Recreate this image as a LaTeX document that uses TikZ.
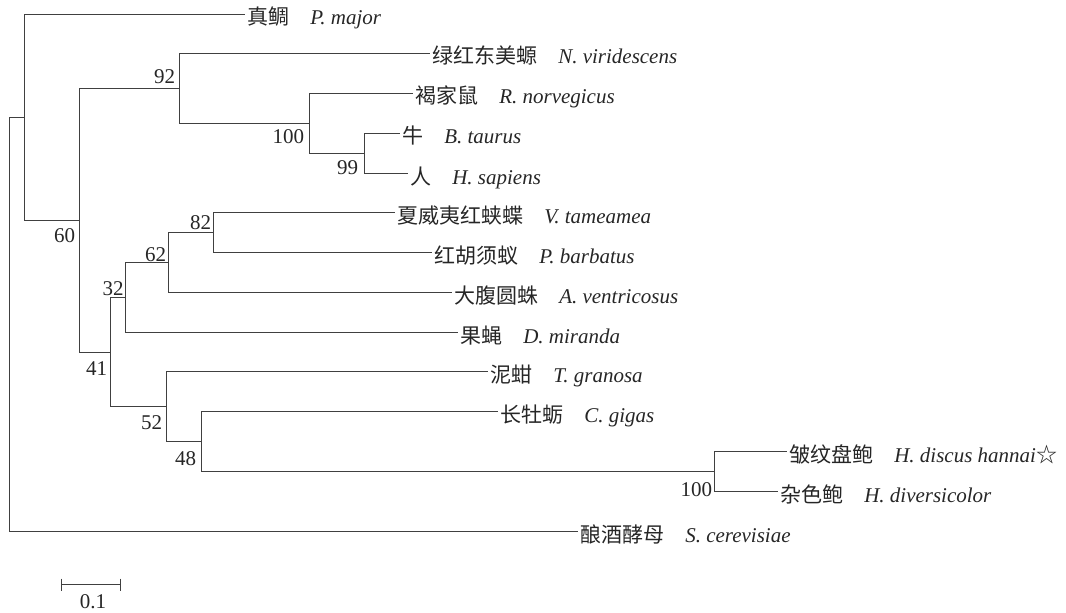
\documentclass[tikz,border=0pt]{standalone}
\usepackage{fontspec}
\setmainfont{Liberation Serif}
\newfontfamily\cjk{Noto Sans CJK SC}
\usetikzlibrary{calc}
\newcommand\taxon[2]{{\cjk #1}\hspace{1em}\textit{#2}}
\begin{document}
\begin{tikzpicture}[x=0.75pt,y=-0.75pt,
  tree/.style={draw=black!75,line width=0.95pt},
  leaf/.style={anchor=west,inner xsep=1.5pt,inner ysep=0pt,text height=16.5pt,text depth=0.75pt,
    font=\fontsize{15.75pt}{18pt}\selectfont,text=black!85},
  boot/.style={inner sep=0pt,font=\fontsize{15.75pt}{18pt}\selectfont,text=black!85}]
\useasboundingbox (0,0) rectangle (1066,613);
% internal nodes
\coordinate (root) at (9.5,324.5);
\coordinate (nA) at (24.5,117.5);
\coordinate (n60) at (79.5,220.5);
\coordinate (n92) at (179.5,88.5);
\coordinate (n100a) at (309.5,123.5);
\coordinate (n99) at (364.5,153.5);
\coordinate (n41) at (110.5,352.5);
\coordinate (n32) at (125.5,297.5);
\coordinate (n62) at (168.5,262.5);
\coordinate (n82) at (213.5,232.5);
\coordinate (n52) at (166.5,406.5);
\coordinate (n48) at (201.5,441.5);
\coordinate (n100b) at (714.5,471.5);
% leaves
\node[leaf] (L1) at (245,14.5) {\taxon{真鲷}{P. major}};
\node[leaf] (L2) at (430,53.5) {\taxon{绿红东美螈}{N. viridescens}};
\node[leaf] (L3) at (413,93.5) {\taxon{褐家鼠}{R. norvegicus}};
\node[leaf] (L4) at (400,133.5) {\taxon{牛}{B. taurus}};
\node[leaf] (L5) at (408,173.5) {\taxon{人}{H. sapiens}};
\node[leaf] (L6) at (395,212.5) {\taxon{夏威夷红蛱蝶}{V. tameamea}};
\node[leaf] (L7) at (432,252.5) {\taxon{红胡须蚁}{P. barbatus}};
\node[leaf] (L8) at (452,292.5) {\taxon{大腹圆蛛}{A. ventricosus}};
\node[leaf] (L9) at (458,332.5) {\taxon{果蝇}{D. miranda}};
\node[leaf] (L10) at (488,371.5) {\taxon{泥蚶}{T. granosa}};
\node[leaf] (L11) at (498,411.5) {\taxon{长牡蛎}{C. gigas}};
\node[leaf] (L12) at (787,451.5) {\taxon{皱纹盘鲍}{H. discus hannai}{\cjk ☆}};
\node[leaf] (L13) at (778,491.5) {\taxon{杂色鲍}{H. diversicolor}};
\node[leaf] (L14) at (578,531.5) {\taxon{酿酒酵母}{S. cerevisiae}};
% branches
\draw[tree] (root) |- (nA);
\draw[tree] (root) |- (L14.west);
\draw[tree] (nA) |- (L1.west);
\draw[tree] (nA) |- (n60);
\draw[tree] (n60) |- (n92);
\draw[tree] (n60) |- (n41);
\draw[tree] (n92) |- (L2.west);
\draw[tree] (n92) |- (n100a);
\draw[tree] (n100a) |- (L3.west);
\draw[tree] (n100a) |- (n99);
\draw[tree] (n99) |- (L4.west);
\draw[tree] (n99) |- (L5.west);
\draw[tree] (n41) |- (n32);
\draw[tree] (n41) |- (n52);
\draw[tree] (n32) |- (n62);
\draw[tree] (n32) |- (L9.west);
\draw[tree] (n62) |- (n82);
\draw[tree] (n62) |- (L8.west);
\draw[tree] (n82) |- (L6.west);
\draw[tree] (n82) |- (L7.west);
\draw[tree] (n52) |- (L10.west);
\draw[tree] (n52) |- (n48);
\draw[tree] (n48) |- (L11.west);
\draw[tree] (n48) |- (n100b);
\draw[tree] (n100b) |- (L12.west);
\draw[tree] (n100b) |- (L13.west);
% bootstrap values
\node[boot,anchor=base east] (b60) at ($(n60)+(-4,22)$) {60};
\node[boot,anchor=base east] (b92) at ($(n92)+(-4,-5)$) {92};
\node[boot,anchor=base east] (b100a) at ($(n100a)+(-5,20)$) {100};
\node[boot,anchor=base east] (b99) at ($(n99)+(-6,21)$) {99};
\node[boot,anchor=base east] (b41) at ($(n41)+(-3,23)$) {41};
\node[boot,anchor=base east] (b32) at ($(n32)+(-1.5,-2)$) {32};
\node[boot,anchor=base east] (b62) at ($(n62)+(-2,-1.5)$) {62};
\node[boot,anchor=base east] (b82) at ($(n82)+(-2,-3)$) {82};
\node[boot,anchor=base east] (b52) at ($(n52)+(-4,22.5)$) {52};
\node[boot,anchor=base east] (b48) at ($(n48)+(-5,24)$) {48};
\node[boot,anchor=base east] (b100b) at ($(n100b)+(-2,24.5)$) {100};
% scale bar
\coordinate (sbL) at (61.5,584.5);
\coordinate (sbR) at (120.5,584.5);
\draw[tree] (sbL) -- (sbR);
\draw[tree] ($(sbL)+(0,-6)$) -- ($(sbL)+(0,6)$);
\draw[tree] ($(sbR)+(0,-6)$) -- ($(sbR)+(0,6)$);
\node[boot,anchor=base] (sblab) at (93,608) {0.1};
\end{tikzpicture}
\end{document}
